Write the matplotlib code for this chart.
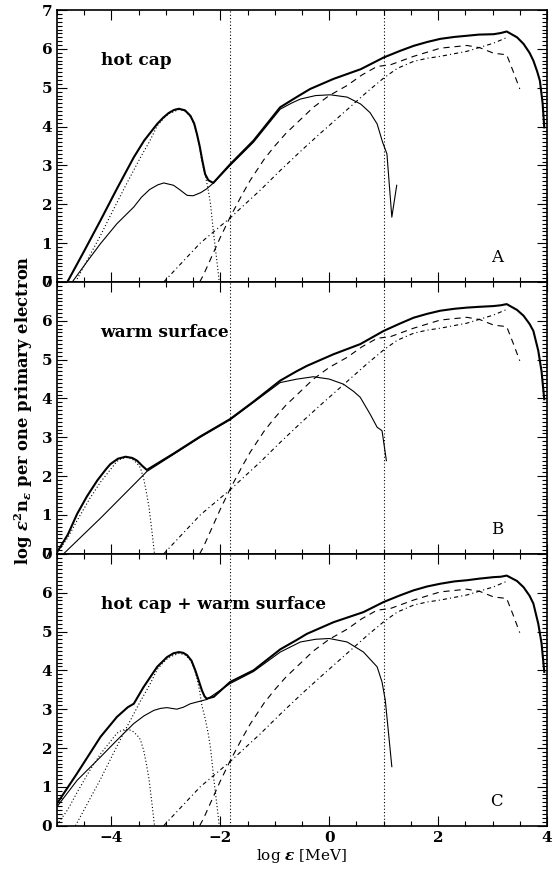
import matplotlib
matplotlib.use("Agg")
import matplotlib.pyplot as plt
from matplotlib.ticker import MultipleLocator

plt.rcParams['font.family'] = ['DejaVu Serif']
plt.rcParams['font.weight'] = 'bold'
plt.rcParams['mathtext.fontset'] = 'dejavuserif'
plt.rcParams['lines.scale_dashes'] = False

# ---- panel A: hot cap ----
a_total_x = [-4.81, -4.5, -4.2, -3.9, -3.59, -3.4, -3.16, -3.05, -2.95, -2.85, -2.76, -2.65,
             -2.55, -2.48, -2.43, -2.38, -2.33, -2.28, -2.22, -2.13, -1.82, -1.39, -0.9,
             -0.6, -0.35, 0.08, 0.58, 1.0, 1.3, 1.55, 1.8, 2.04, 2.3, 2.53, 2.75, 3.02, 3.15,
             3.26, 3.45, 3.57, 3.68, 3.75, 3.82, 3.87, 3.92, 3.95]
a_total_y = [0.0, 0.8, 1.59, 2.4, 3.21, 3.64, 4.07, 4.23, 4.35, 4.43, 4.46, 4.42,
             4.28, 4.08, 3.81, 3.5, 3.12, 2.78, 2.62, 2.55, 3.03, 3.64, 4.5,
             4.76, 4.97, 5.23, 5.48, 5.78, 5.95, 6.08, 6.18, 6.26, 6.31, 6.34, 6.37, 6.38, 6.41,
             6.45, 6.3, 6.13, 5.9, 5.7, 5.42, 5.18, 4.6, 3.98]
a_thin_x = [-4.72, -4.45, -4.2, -3.9, -3.59, -3.45, -3.3, -3.15, -3.04, -2.86, -2.75, -2.61,
            -2.5, -2.36, -2.25, -2.15, -1.82, -1.39, -0.9, -0.7, -0.53, -0.25, 0.02, 0.33,
            0.58, 0.75, 0.88, 0.98, 1.06, 1.15, 1.24]
a_thin_y = [0.0, 0.52, 0.99, 1.5, 1.93, 2.18, 2.38, 2.5, 2.55, 2.49, 2.38, 2.23,
            2.22, 2.3, 2.4, 2.52, 3.0, 3.6, 4.45, 4.6, 4.71, 4.8, 4.82, 4.76,
            4.58, 4.36, 4.07, 3.6, 3.3, 1.67, 2.49]

# ---- panel B: warm surface ----
b_total_x = [-5.0, -4.8, -4.63, -4.45, -4.26, -4.1, -4.02, -3.88, -3.74, -3.62, -3.53, -3.43,
             -3.35, -2.86, -2.37, -1.82, -1.39, -0.9, -0.6, -0.41, 0.08, 0.57, 1.0, 1.3, 1.55,
             1.8, 2.04, 2.3, 2.53, 2.75, 3.02, 3.15, 3.26, 3.45, 3.57, 3.68, 3.75, 3.84, 3.9,
             3.95]
b_total_y = [0.04, 0.5, 1.03, 1.48, 1.89, 2.18, 2.31, 2.45, 2.5, 2.47, 2.4, 2.26,
             2.16, 2.58, 3.02, 3.47, 3.92, 4.46, 4.7, 4.84, 5.14, 5.4, 5.74, 5.93, 6.08,
             6.18, 6.26, 6.31, 6.34, 6.36, 6.38, 6.4, 6.43, 6.28, 6.13, 5.92, 5.74, 5.23, 4.7,
             3.98]
b_thin_x = [-4.88, -4.2, -3.59, -3.35, -2.86, -2.37, -1.82, -1.39, -0.9, -0.59, -0.29,
            0.0, 0.26, 0.45, 0.57, 0.75, 0.88, 0.97, 1.05]
b_thin_y = [0.0, 0.92, 1.78, 2.12, 2.56, 3.0, 3.45, 3.9, 4.41, 4.5, 4.56,
            4.5, 4.37, 4.18, 4.03, 3.6, 3.26, 3.17, 2.4]

# ---- panel C: hot cap + warm surface ----
c_total_x = [-5.0, -4.63, -4.2, -3.9, -3.7, -3.59, -3.41, -3.16, -2.98, -2.86, -2.76, -2.68,
             -2.61, -2.53, -2.46, -2.4, -2.34, -2.29, -2.25, -2.12, -1.82, -1.39, -0.9, -0.6,
             -0.41, 0.08, 0.63, 1.0, 1.3, 1.55, 1.8, 2.04, 2.3, 2.53, 2.75, 3.02, 3.15, 3.26,
             3.45, 3.57, 3.68, 3.75, 3.84, 3.9, 3.95]
c_total_y = [0.57, 1.35, 2.29, 2.8, 3.05, 3.14, 3.57, 4.09, 4.34, 4.44, 4.47, 4.45,
             4.39, 4.25, 4.0, 3.75, 3.49, 3.33, 3.27, 3.32, 3.7, 4.0, 4.54, 4.78,
             4.94, 5.24, 5.5, 5.76, 5.93, 6.06, 6.16, 6.23, 6.29, 6.32, 6.36, 6.4, 6.41, 6.44,
             6.3, 6.14, 5.92, 5.72, 5.2, 4.7, 3.96]
c_thin_x = [-5.0, -4.63, -4.2, -3.9, -3.59, -3.4, -3.22, -3.1, -2.98, -2.8, -2.68, -2.55,
            -2.25, -1.82, -1.39, -0.9, -0.53, -0.25, 0.0, 0.33, 0.63, 0.88, 0.97, 1.03, 1.15]
c_thin_y = [0.49, 1.17, 1.77, 2.2, 2.63, 2.83, 2.97, 3.02, 3.04, 3.0, 3.05, 3.14,
            3.25, 3.66, 3.97, 4.47, 4.73, 4.8, 4.82, 4.73, 4.47, 4.09, 3.7, 3.23, 1.52]

# ---- components shared between panels ----
hot_bb_x = [-4.66, -4.43, -4.2, -3.98, -3.77, -3.47, -3.3, -3.16, -3.05, -2.95, -2.76, -2.65,
            -2.55, -2.48, -2.43, -2.38, -2.34, -2.3, -2.27, -2.22, -2.18, -2.12, -2.06, -2.02]
hot_bb_y = [0.0, 0.6, 1.2, 1.82, 2.4, 3.2, 3.62, 4.02, 4.2, 4.33, 4.44, 4.4,
            4.26, 4.05, 3.8, 3.47, 3.1, 2.88, 2.7, 2.35, 2.0, 1.2, 0.5, 0.0]
warm_bb_x = [-5.0, -4.8, -4.63, -4.4, -4.2, -3.9, -3.82, -3.74, -3.67, -3.6, -3.53, -3.47,
             -3.41, -3.36, -3.31, -3.25, -3.21]
warm_bb_y = [0.02, 0.42, 0.86, 1.42, 1.85, 2.38, 2.45, 2.48, 2.47, 2.42, 2.33, 2.22,
             1.95, 1.6, 1.2, 0.5, 0.0]
dash_x = [-2.38, -2.31, -2.0, -1.82, -1.6, -1.45, -1.2, -1.02, -0.8, -0.59, -0.29, 0.0,
          0.33, 0.6, 0.88, 1.12, 1.55, 2.04, 2.53, 2.77, 3.02, 3.26, 3.38, 3.5]
dash_y = [0.0, 0.18, 1.15, 1.67, 2.25, 2.62, 3.15, 3.47, 3.82, 4.1, 4.5, 4.8,
          5.06, 5.33, 5.55, 5.59, 5.81, 6.02, 6.09, 6.03, 5.89, 5.85, 5.42, 4.97]
dd_x = [-3.04, -2.37, -1.82, -1.27, -0.9, -0.5, -0.17, 0.33, 0.7, 1.0, 1.25, 1.55, 1.8, 2.04,
        2.53, 3.02, 3.29]
dd_y = [0.0, 1.0, 1.65, 2.36, 2.87, 3.4, 3.82, 4.44, 4.9, 5.25, 5.5, 5.68, 5.76, 5.81,
        5.94, 6.15, 6.31]

vlines = [-1.83, 1.0]
titles = ['hot cap', 'warm surface', 'hot cap + warm surface']
letters = ['A', 'B', 'C']

panels = [
    (a_total_x, a_total_y, a_thin_x, a_thin_y, [(hot_bb_x, hot_bb_y)]),
    (b_total_x, b_total_y, b_thin_x, b_thin_y, [(warm_bb_x, warm_bb_y)]),
    (c_total_x, c_total_y, c_thin_x, c_thin_y, [(hot_bb_x, hot_bb_y), (warm_bb_x, warm_bb_y)]),
]

fig = plt.figure(figsize=(5.59, 8.73), dpi=100)
left, width = 0.102, 0.8765
bottom0, h = 0.0542, 0.3114

for i, (tx, ty, sx, sy, bbs) in enumerate(panels):
    ax = fig.add_axes([left, bottom0 + (2 - i) * h, width, h])
    ax.plot(tx, ty, color='black', lw=1.5, solid_joinstyle='round')
    ax.plot(sx, sy, color='black', lw=0.8)
    for bx, by in bbs:
        ax.plot(bx, by, color='black', lw=0.8, dashes=[0.8, 1.6])
    ax.plot(dash_x, dash_y, color='black', lw=0.8, dashes=[4.5, 3.5])
    ax.plot(dd_x, dd_y, color='black', lw=0.8, dashes=[3.0, 2.2, 0.8, 2.2])
    for v in vlines:
        ax.axvline(v, color='black', lw=0.8, dashes=[0.8, 1.6])

    ax.text(-4.2, 5.7, titles[i], fontsize=12.2, ha='left', va='center')
    ax.text(3.08, 0.62, letters[i], fontsize=12, ha='center', va='center', fontweight='normal')

    ax.set_xlim(-5, 4)
    ax.set_ylim(0, 7)
    ax.xaxis.set_major_locator(MultipleLocator(2))
    ax.xaxis.set_minor_locator(MultipleLocator(0.5))
    ax.yaxis.set_major_locator(MultipleLocator(1))
    ax.yaxis.set_minor_locator(MultipleLocator(0.1))
    ax.tick_params(which='both', direction='in', top=True, right=True, width=0.8)
    ax.tick_params(which='major', length=7)
    ax.tick_params(which='minor', length=3.5)
    ax.tick_params(labelsize=11)
    for s in ax.spines.values():
        s.set_linewidth(1.2)
    if i < 2:
        ax.tick_params(labelbottom=False)
    else:
        ax.set_xlabel(r'log $\epsilon$ [MeV]', fontsize=11, labelpad=2)

fig.text(0.042, 0.53, r'log $\epsilon^2$n$_\epsilon$ per one primary electron',
         rotation=90, fontsize=11.8, ha='center', va='center')

fig.savefig('out.png', dpi=100)
